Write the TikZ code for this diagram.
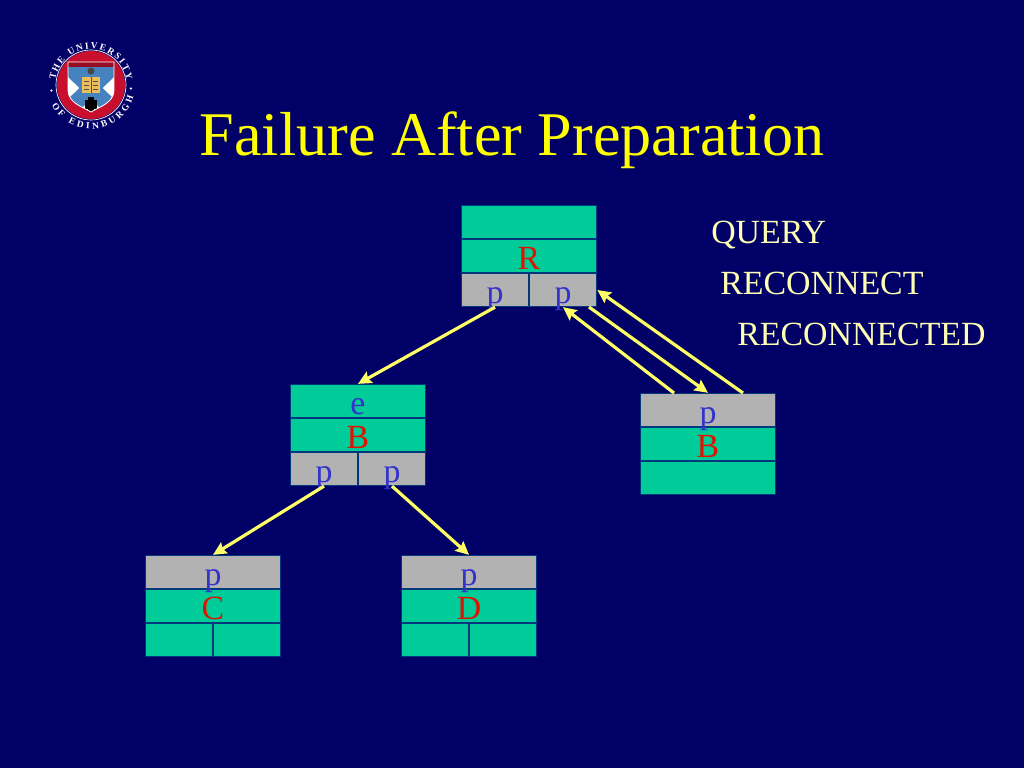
\documentclass[tikz,border=0pt]{standalone}
\usepackage{fontspec}
\setmainfont{Liberation Serif}
\definecolor{slidebg}{RGB}{0, 0, 102}
\definecolor{cellgreen}{RGB}{0, 204, 153}
\definecolor{cellgray}{RGB}{178, 178, 178}
\definecolor{celledge}{RGB}{0, 55, 125}
\definecolor{pblue}{RGB}{51, 51, 204}
\definecolor{namered}{RGB}{221, 20, 0}
\definecolor{titleyellow}{RGB}{255, 255, 0}
\definecolor{arrowyellow}{RGB}{255, 255, 102}
\definecolor{msgyellow}{RGB}{255, 255, 180}
\definecolor{crestred}{RGB}{200, 16, 46}
\definecolor{crestblue}{RGB}{70, 130, 190}
\definecolor{bookyellow}{RGB}{235, 190, 90}
\usetikzlibrary{arrows.meta, decorations.text}

\begin{document}
\begin{tikzpicture}[
  x=0.75pt, y=-0.75pt,
  cell/.style={draw=celledge, line width=0.7pt, minimum width=101.5pt, minimum height=25pt,
               inner sep=0pt, text height=19.5pt, text depth=0pt, font=\fontsize{25.4pt}{28pt}\selectfont},
  halfcell/.style={cell, minimum width=50.75pt},
  msg/.style={anchor=base west, inner sep=0pt, text=msgyellow, font=\fontsize{25.4pt}{28pt}\selectfont},
  link/.style={-{Stealth[length=10pt, width=9.5pt, inset=1.5pt]}, line width=2.4pt, arrowyellow},
  crestup/.style={decorate, decoration={text along path, text align={fit to path},
                  text color=white, text={|\fontsize{7pt}{8pt}\selectfont\bfseries|THE UNIVERSITY}}},
  crestdown/.style={decorate, decoration={text along path, text align={fit to path},
                  text color=white, text={|\fontsize{7pt}{8pt}\selectfont\bfseries|OF EDINBURGH}}},
]
\fill[slidebg] (0,0) rectangle (1024,768);
\useasboundingbox (0,0) rectangle (1024,768);

% Crest
\begin{scope}[shift={(91,85)}, x=0.75pt, y=0.75pt]
\fill[crestred] (0,0) circle[radius=34];
\draw[white, line width=0.5pt] (0,0) circle[radius=35];
\path[crestup] (172:36) arc[start angle=172, end angle=8, radius=36];
\path[crestdown] (207:44) arc[start angle=207, end angle=345, radius=44];
\fill[white] (188:40) circle[radius=1.2];
\fill[white] (-5:40) circle[radius=1.2];
\begin{scope}
\clip (-23,23) -- (23,23) -- (23,-5) .. controls (23,-18) and (8,-22) .. (0,-27)
      .. controls (-8,-22) and (-23,-18) .. (-23,-5) -- cycle;
\fill[white] (-23,-27) rectangle (23,23);
\draw[crestblue, line width=12pt] (-26,22) -- (26,-28);
\draw[crestblue, line width=12pt] (26,22) -- (-26,-28);
\fill[crestblue] (-23,23) -- (23,23) -- (0,2) -- cycle;
\fill[crestred!75!black] (-23,18) rectangle (23,23);
\fill[black!45!gray] (0,14) circle[radius=3.5];
\fill[black] (-6,-24) rectangle (6,-15);
\fill[black] (-3,-12) rectangle (3,-28);
\end{scope}
\draw[white, line width=0.6pt] (-23,23) -- (23,23) -- (23,-5) .. controls (23,-18) and (8,-22) .. (0,-27)
      .. controls (-8,-22) and (-23,-18) .. (-23,-5) -- cycle;
\fill[bookyellow] (-9,8) rectangle (9,-8);
\draw[black!70, line width=0.5pt] (0,8) -- (0,-8);
\foreach \row in {4,0,-4} {
  \draw[black!70, line width=0.4pt] (-7,\row) -- (-2,\row);
  \draw[black!70, line width=0.4pt] (2,\row) -- (7,\row);
}
\end{scope}

% Title
\node[anchor=base, inner sep=0pt, text=titleyellow, font=\fontsize{46.6pt}{50pt}\selectfont] (title) at (512,155) {Failure After Preparation};

% Root
\node[cell, fill=cellgreen] (roottop) at (529,222) {};
\node[cell, fill=cellgreen, text=namered] (rootname) at (529,256) {R};
\node[halfcell, fill=cellgray, text=pblue] (rootpl) at (495,290) {p};
\node[halfcell, fill=cellgray, text=pblue] (rootpr) at (563,290) {p};

% Left child
\node[cell, fill=cellgreen, text=pblue] (bente) at (358,401) {e};
\node[cell, fill=cellgreen, text=namered] (bname) at (358,435) {B};
\node[halfcell, fill=cellgray, text=pblue] (bpl) at (324,469) {p};
\node[halfcell, fill=cellgray, text=pblue] (bpr) at (392,469) {p};

% Right copy
\node[cell, fill=cellgreen] (copybot) at (708,478) {};
\node[cell, fill=cellgreen, text=namered] (copyname) at (708,444) {B};
\node[cell, fill=cellgray, text=pblue] (copyp) at (708,410) {p};

% Leaf C
\node[halfcell, fill=cellgreen] (cl) at (179,640) {};
\node[halfcell, fill=cellgreen] (cr) at (247,640) {};
\node[cell, fill=cellgreen, text=namered] (cname) at (213,606) {C};
\node[cell, fill=cellgray, text=pblue] (cp) at (213,572) {p};

% Leaf D
\node[halfcell, fill=cellgreen] (dl) at (435,640) {};
\node[halfcell, fill=cellgreen] (dr) at (503,640) {};
\node[cell, fill=cellgreen, text=namered] (dname) at (469,606) {D};
\node[cell, fill=cellgray, text=pblue] (dp) at (469,572) {p};

% Messages
\node[msg] (query) at (711,243) {QUERY};
\node[msg] (reconnect) at (720,294) {RECONNECT};
\node[msg] (reconnected) at (737,345) {RECONNECTED};

\coordinate (queryfrom) at (674,393);
\coordinate (recfrom) at (589,307);
\coordinate (recdfrom) at (743,393);

\draw[link] (rootpl.south) -- (bente.north);
\draw[link] (bpl.south) -- (cp.north);
\draw[link] (bpr.south) -- (dp.north);
\draw[link] (queryfrom) -- (rootpr.south);
\draw[link] (recfrom) -- (copyp.north);
\draw[link] (recdfrom) -- (rootpr.east);
\end{tikzpicture}
\end{document}
